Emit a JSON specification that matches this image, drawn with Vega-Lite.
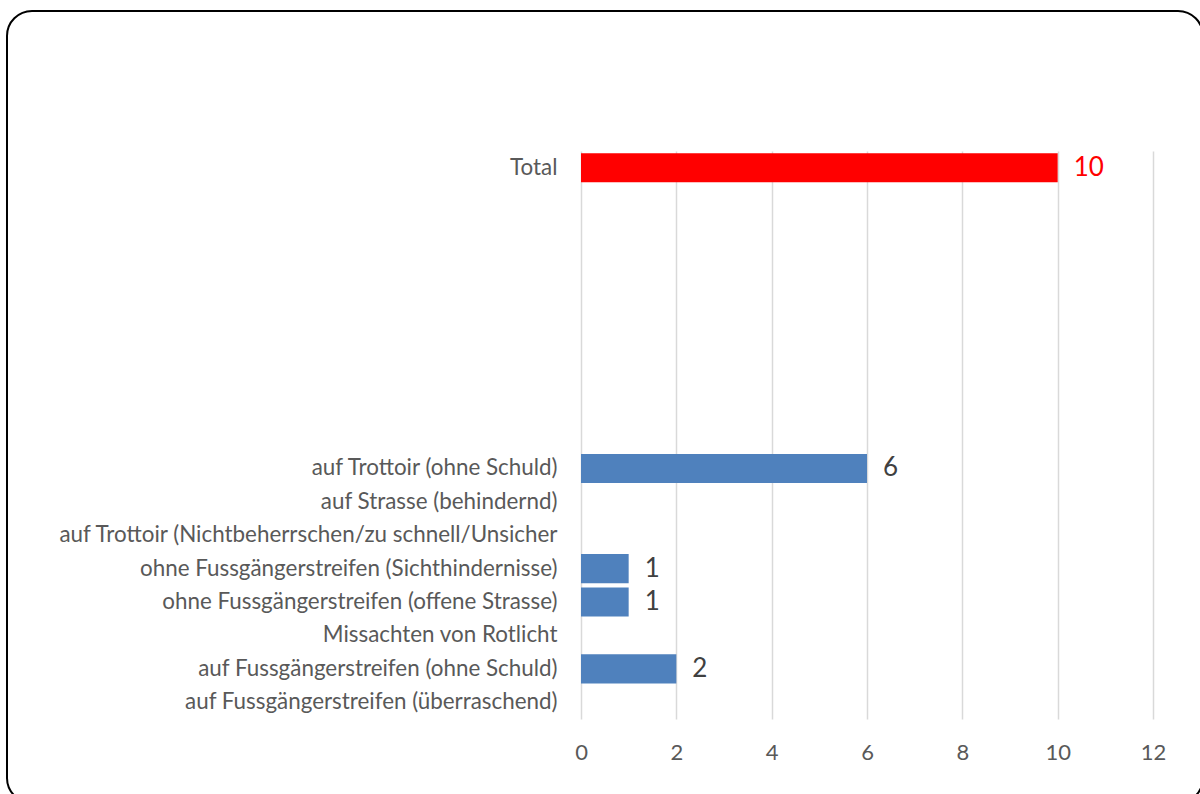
{
  "$schema": "https://vega.github.io/schema/vega-lite/v6.json",
  "autosize": "none",
  "padding": {"left": 7, "top": 11, "right": 0, "bottom": 0},
  "width": 1196,
  "height": 792,
  "background": "white",
  "config": {
    "view": {"stroke": "#000000", "strokeWidth": 2, "cornerRadius": 25, "fill": null},
    "font": "Lato"
  },
  "data": {
    "values": [
      {"cat": "Total", "value": 10},
      {"cat": "auf Trottoir (ohne Schuld)", "value": 6},
      {"cat": "ohne Fussgängerstreifen (Sichthindernisse)", "value": 1},
      {"cat": "ohne Fussgängerstreifen (offene Strasse)", "value": 1},
      {"cat": "auf Fussgängerstreifen (ohne Schuld)", "value": 2}
    ]
  },
  "encoding": {
    "y": {
      "field": "cat",
      "type": "nominal",
      "sort": null,
      "scale": {
        "domain": ["Total", "blank1", "blank2", "blank3", "blank4", "blank5", "blank6", "blank7", "blank8",
          "auf Trottoir (ohne Schuld)", "auf Strasse (behindernd)", "auf Trottoir (Nichtbeherrschen/zu schnell/Unsicher",
          "ohne Fussgängerstreifen (Sichthindernisse)", "ohne Fussgängerstreifen (offene Strasse)", "Missachten von Rotlicht",
          "auf Fussgängerstreifen (ohne Schuld)", "auf Fussgängerstreifen (überraschend)"],
        "range": [140, 708],
        "paddingInner": 0.13,
        "paddingOuter": 0.065
      },
      "axis": {
        "title": null,
        "offset": -574,
        "domain": false,
        "ticks": false,
        "tickSize": 0,
        "labelPadding": 24,
        "labelFontSize": 22.4,
        "labelLimit": 0,
        "labelColor": "#595959",
        "labelFont": "Lato",
        "labelExpr": "indexof(datum.value, 'blank') == 0 ? '' : datum.value",
        "grid": false
      }
    }
  },
  "layer": [
    {
      "mark": {"type": "bar"},
      "encoding": {
        "x": {
          "field": "value",
          "type": "quantitative",
          "scale": {"domain": [0, 12], "range": [574, 1146], "nice": false, "zero": true},
          "axis": {
            "title": null,
            "orient": "top",
            "values": [0, 2, 4, 6, 8, 10, 12],
            "format": "d",
            "offset": -708,
            "domain": false,
            "ticks": false,
            "tickSize": 0,
            "labelPadding": -23,
            "labelBaseline": "top",
            "labelAlign": "center",
            "labelFlush": false,
            "labelFontSize": 22,
            "labelColor": "#595959",
            "labelFont": "Lato",
            "grid": true,
            "gridColor": "#D9D9D9",
            "gridWidth": 1.5
          }
        },
        "color": {
          "condition": {"test": "datum.cat === 'Total'", "value": "#FF0000"},
          "value": "#4F81BD"
        }
      }
    },
    {
      "mark": {"type": "text", "align": "left", "baseline": "middle", "dx": 16, "fontSize": 26, "font": "Lato"},
      "encoding": {
        "x": {"field": "value", "type": "quantitative"},
        "text": {"field": "value", "type": "quantitative"},
        "color": {
          "condition": {"test": "datum.cat === 'Total'", "value": "#FF0000"},
          "value": "#404040"
        }
      }
    }
  ]
}
